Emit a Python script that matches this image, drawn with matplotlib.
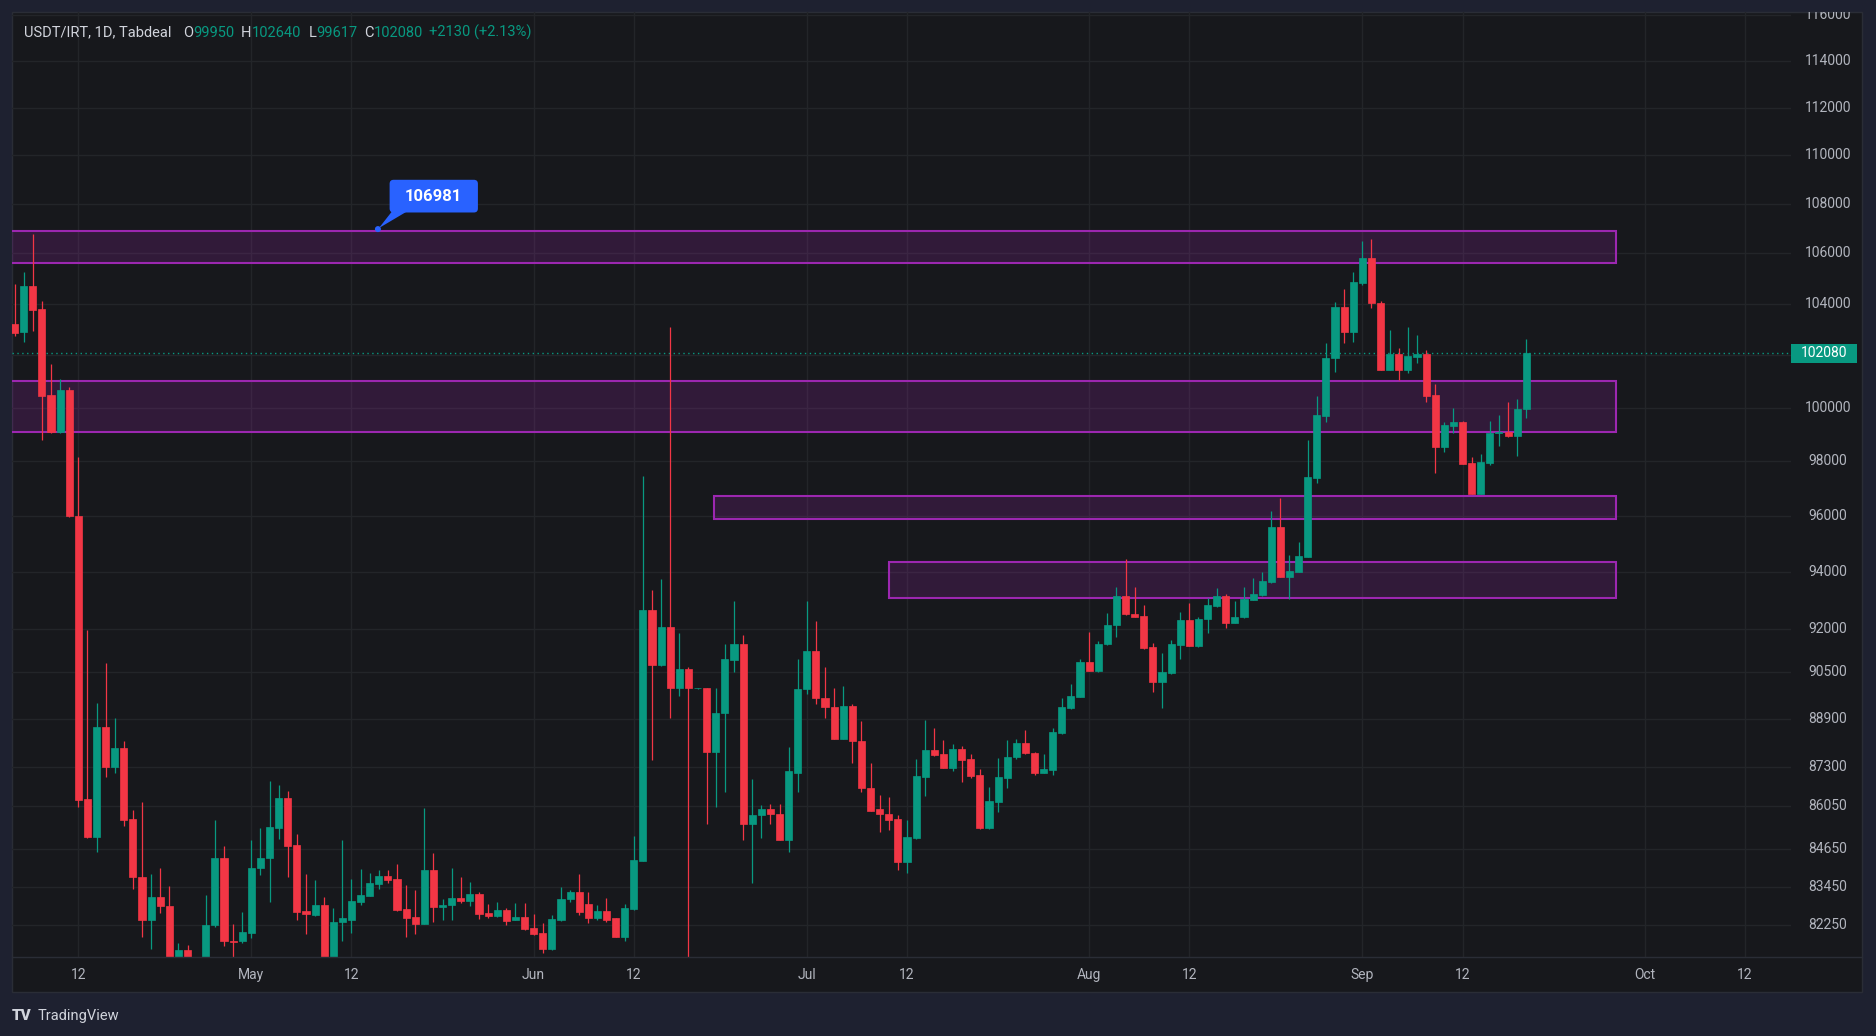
import numpy as np
import matplotlib
matplotlib.use("Agg")
import matplotlib.pyplot as plt
from matplotlib.patches import Rectangle, FancyBboxPatch, Polygon, Circle
from matplotlib.transforms import blended_transform_factory, IdentityTransform
from matplotlib.lines import Line2D

plt.rcParams['font.family'] = ['Roboto', 'DejaVu Sans']

# ---------------- data ----------------
day_index = np.arange(-7, 160)   # 0 = Apr 12

opens = [103200, 102890, 104700, 103790, 100480, 99090, 100660, 95980, 86250, 85050,
         88650, 87330, 87940, 85620, 83750, 82400, 83140, 82850, 80900, 81490,
         81100, 80800, 82260, 84380, 81770, 81750, 82010, 84040, 84380, 85340,
         86310, 84780, 82690, 82570, 82870, 81200, 82350, 82420, 82970, 83170,
         83540, 83790, 83700, 82750, 82510, 82300, 83980, 82810, 82870, 83110,
         83020, 83220, 82640, 82540, 82720, 82420, 82520, 82150, 82000, 81500,
         82420, 83060, 83300, 82900, 82480, 82690, 82460, 81890, 82740, 84270,
         92660, 90760, 92060, 89950, 90590, 89950, 89950, 87820, 89130, 90920,
         91460, 85460, 85730, 85930, 85770, 84940, 87130, 89940, 91210, 89630,
         89300, 88240, 89340, 88190, 86620, 85930, 85770, 85610, 84250, 85010,
         86990, 87880, 87750, 87290, 87910, 87580, 87050, 85310, 86180, 86960,
         87630, 88110, 87790, 87130, 87220, 88430, 89270, 89670, 90860, 90540,
         91450, 92110, 93140, 92510, 92450, 91360, 90170, 90470, 91420, 92310,
         91390, 92330, 92800, 93130, 92210, 92390, 93010, 93160, 93640, 95610,
         93820, 94000, 94530, 97400, 99700, 101890, 103890, 102920, 104840, 105830,
         104050, 101440, 102040, 101440, 101950, 102040, 100480, 98540, 99330, 99480,
         97930, 96800, 97930, 99040, 99100, 98940, 99950]

highs = [104770, 105280, 106790, 104120, 101650, 101110, 100780, 98140, 91940, 89440,
         90820, 88930, 88170, 85900, 86170, 83850, 84040, 83480, 81690, 81650,
         81200, 83180, 85590, 84750, 82280, 82660, 84950, 85320, 86850, 86720,
         86530, 85120, 83850, 83670, 83120, 82790, 84940, 83700, 84020, 83880,
         83980, 83980, 84180, 83510, 83350, 85970, 84510, 83060, 84060, 83750,
         83600, 83280, 82910, 82960, 82790, 82940, 82940, 82590, 82320, 82570,
         83440, 83350, 83850, 83300, 82880, 83100, 82470, 82920, 85080, 97460,
         93340, 93740, 103080, 91860, 90680, 89970, 89960, 89950, 91460, 92950,
         91760, 86930, 86070, 86110, 86110, 87980, 90950, 92950, 92260, 90680,
         89950, 90010, 89410, 88860, 87450, 86400, 86320, 85740, 85580, 87570,
         88880, 88600, 88200, 88060, 88010, 87750, 87250, 86650, 87610, 88200,
         88240, 88550, 87820, 87750, 88600, 89610, 90100, 90950, 91870, 91570,
         92530, 93450, 94460, 93460, 92840, 91510, 91160, 91620, 92570, 92900,
         92410, 93080, 93430, 93220, 92960, 93440, 93760, 93980, 96180, 96660,
         94590, 95070, 98790, 100450, 102470, 104090, 104590, 105250, 106500, 106580,
         104120, 102980, 102300, 103090, 102790, 102210, 100900, 99480, 99980, 99490,
         98150, 98260, 99500, 99730, 100230, 100320, 102640]

lows = [102740, 102500, 102960, 98790, 99060, 99060, 95950, 86020, 85020, 84560,
        86970, 87130, 85390, 83370, 81900, 81530, 82640, 80600, 80700, 80800,
        80500, 80700, 82200, 81620, 81000, 81690, 81850, 83810, 82960, 84970,
        83770, 82420, 81970, 82550, 81000, 81050, 81770, 82000, 82870, 83150,
        83380, 83560, 82700, 81890, 81970, 82290, 82350, 82420, 82420, 82940,
        82840, 82450, 82490, 82520, 82270, 82410, 82110, 81960, 81380, 81490,
        82370, 82990, 82570, 82330, 82420, 82360, 81880, 81760, 82730, 84260,
        87550, 90720, 88950, 89700, 80500, 89930, 85460, 86000, 86490, 90490,
        84940, 83560, 84990, 85460, 84930, 84570, 86490, 89760, 89410, 88950,
        88230, 88230, 87450, 86510, 85880, 85190, 85250, 83970, 83880, 84980,
        86370, 87690, 87270, 87190, 86810, 86960, 85300, 85300, 85850, 86640,
        87580, 87750, 87050, 87110, 87050, 88420, 89240, 89650, 90540, 90490,
        91440, 91700, 92480, 92390, 91300, 89830, 89290, 90430, 90960, 91380,
        91360, 91830, 92740, 92020, 92190, 92370, 92990, 93140, 93580, 93810,
        93050, 93990, 94520, 97190, 99450, 101370, 102490, 102530, 104750, 103830,
        101430, 101430, 101050, 101310, 101720, 100210, 97580, 98360, 99040, 97890,
        96790, 96790, 97860, 98580, 98920, 98210, 99617]

closes = [102870, 104700, 103770, 100460, 99090, 100660, 95980, 86240, 85050, 88650,
          87330, 87940, 85590, 83750, 82400, 83140, 82850, 80900, 81490, 81100,
          80800, 82260, 84380, 81750, 81740, 82050, 84050, 84380, 85360, 86310,
          84760, 82670, 82590, 82870, 81200, 82350, 82460, 83010, 83200, 83560,
          83790, 83670, 82720, 82490, 82290, 83980, 82810, 82890, 83110, 83020,
          83220, 82600, 82540, 82720, 82390, 82500, 82120, 81970, 81500, 82440,
          83060, 83300, 82660, 82480, 82690, 82420, 81890, 82790, 84310, 92660,
          90760, 92060, 89950, 90590, 89950, 89960, 87820, 89130, 90950, 91460,
          85460, 85730, 85930, 85770, 84940, 87170, 89940, 91210, 89630, 89300,
          88240, 89340, 88190, 86620, 85890, 85770, 85580, 84250, 85030, 87020,
          87880, 87710, 87290, 87910, 87550, 87020, 85310, 86200, 86970, 87640,
          88110, 87770, 87110, 87250, 88490, 89330, 89690, 90860, 90550, 91470,
          92130, 93140, 92510, 92420, 91330, 90170, 90490, 91450, 92310, 91390,
          92350, 92840, 93130, 92210, 92410, 93050, 93200, 93680, 95610, 93820,
          94030, 94550, 97430, 99730, 101910, 103890, 102920, 104880, 105830, 104030,
          101440, 102040, 101440, 101970, 102040, 100460, 98540, 99350, 99480, 97900,
          96800, 97990, 99040, 99100, 98940, 99950, 102080]

price_ticks = [82250, 83450, 84650, 86050, 87300, 88900, 90500, 92000, 94000, 96000,
               98000, 100000, 102000, 104000, 106000, 108000, 110000, 112000, 114000, 116000]
date_tick_pos = [0, 19, 30, 50, 61, 80, 91, 111, 122, 141, 152, 172, 183]
date_tick_labels = ['12', 'May', '12', 'Jun', '12', 'Jul', '12', 'Aug', '12', 'Sep', '12', 'Oct', '12']

zone_top = [106890, 101035, 96725, 94355]
zone_bottom = [105601, 99074, 95878, 93080]
zone_start = [-20, -20, 69.85, 89.0]
zone_end = [168.9, 168.9, 168.9, 168.9]

callout_x = 32.9
callout_value = 106981

# ---------------- style ----------------
GREEN = '#089981'
RED = '#F23645'
PURPLE = '#9C27B0'
OUTER = '#1e2130'
PANEL = '#17181c'
GRID = '#232529'
TXT = '#b2b5be'

W, H = 1876, 1036
fig = plt.figure(figsize=(W / 100, H / 100), dpi=100)
fig.patch.set_facecolor(OUTER)

def fx(px):
    return px / W

def fy(py):
    return 1 - py / H

panel = Rectangle((fx(12), fy(992)), fx(1862) - fx(12), fy(12) - fy(992),
                  transform=fig.transFigure, facecolor=PANEL, edgecolor='#2a2d36',
                  lw=1, zorder=-10)
fig.patches.append(panel)

ylo, yhi = 81269, 116121
xlo, xhi = -7.28, 188.07
ax = fig.add_axes([fx(12), fy(957), fx(1791) - fx(12), fy(12) - fy(957)])
ax.set_zorder(1)
ax.set_yscale('log')
ax.axis('off')

# grid
for v in price_ticks:
    ax.axhline(v, color=GRID, lw=1, zorder=0)
for p in date_tick_pos:
    ax.axvline(p, color=GRID, lw=1, zorder=0)

# zones
for t, b, s, e in zip(zone_top, zone_bottom, zone_start, zone_end):
    ax.add_patch(Rectangle((s, b), e - s, t - b, facecolor=(0.612, 0.153, 0.69, 0.2),
                           edgecolor=PURPLE, lw=1.5, zorder=1))

# candles
o = np.array(opens, float)
h = np.array(highs, float)
l = np.array(lows, float)
c = np.array(closes, float)
up = c >= o
cols = np.where(up, GREEN, RED)
ax.vlines(day_index, l, h, colors=cols, lw=0.9, zorder=3)
ax.bar(day_index, np.abs(c - o), bottom=np.minimum(o, c), width=0.78,
       color=cols, edgecolor=cols, linewidth=0.5, zorder=4)

# last price dotted line
last = closes[-1]
ax.axhline(last, color=GREEN, lw=1, ls=(0, (1, 2.5)), zorder=2)
ax.set_ylim(ylo, yhi)
ax.set_xlim(xlo, xhi)

# callout
tip = ax.transData.transform((callout_x, callout_value))
idt = IdentityTransform()
bl, bb = tip[0] + 11.7, tip[1] + 16.6
bw, bh = 88.3, 32.7
fig.patches.append(FancyBboxPatch((bl, bb), bw, bh, boxstyle='round,pad=0,rounding_size=4',
                                  transform=idt, facecolor='#2962FF', edgecolor='none', zorder=5))
fig.patches.append(Polygon([(tip[0] + 1, tip[1] + 1), (tip[0] + 14, bb + 1), (tip[0] + 29, bb + 1)],
                           closed=True, transform=idt, facecolor='#2962FF', edgecolor='none', zorder=5))
fig.patches.append(Circle((tip[0], tip[1]), 3, transform=idt, facecolor='#2962FF', zorder=5))
fig.text(bl + bw / 2, bb + bh / 2, str(callout_value), transform=idt, color='white',
         fontsize=12, fontweight='bold', ha='center', va='center', zorder=6)

# price axis
axp = fig.add_axes([fx(1791), fy(957), fx(1862) - fx(1791), fy(12) - fy(957)])
axp.set_zorder(1)
axp.set_yscale('log')
axp.set_ylim(ylo, yhi)
axp.set_xlim(0, 1)
axp.axis('off')
trp = blended_transform_factory(axp.transAxes, axp.transData)
for v in price_ticks:
    if abs(v - last) / last < 0.01:
        continue  # hidden under the last-price badge
    axp.text(0.52, v, str(v), transform=trp, ha='center', va='center',
             color=TXT, fontsize=10, clip_on=True)
ly = axp.transData.transform((0, last))[1]
fig.patches.append(Rectangle((1791, ly - 9.5), 66, 19, transform=idt,
                             facecolor=GREEN, edgecolor='none', zorder=5))
fig.text(1824, ly, str(last), transform=idt, color='white', fontsize=10,
         ha='center', va='center', zorder=6)

# time axis
axt = fig.add_axes([fx(12), fy(992), fx(1791) - fx(12), fy(957) - fy(992)])
axt.set_zorder(1)
axt.set_xlim(xlo, xhi)
axt.set_ylim(0, 1)
axt.axis('off')
for p, lab in zip(date_tick_pos, date_tick_labels):
    axt.text(p, 0.49, lab, ha='center', va='center', color=TXT, fontsize=10, clip_on=True)
fig.lines.append(Line2D([fx(12), fx(1862)], [fy(957), fy(957)], transform=fig.transFigure,
                        color='#2a2d36', lw=1))

# header
chg = closes[-1] - closes[-2]
pct = chg / closes[-2] * 100
hy = fy(32.7)
header = [("USDT/IRT, 1D, Tabdeal", 23.7, '#d1d4dc'),
          ("O", 183, '#d1d4dc'), (str(opens[-1]), 193.7, GREEN),
          ("H", 241.2, '#d1d4dc'), (str(highs[-1]), 251.9, GREEN),
          ("L", 308.4, '#d1d4dc'), (str(lows[-1]), 316.3, GREEN),
          ("C", 363.8, '#d1d4dc'), (str(closes[-1]), 373.7, GREEN),
          (f"{chg:+d} ({pct:+.2f}%)", 429, GREEN)]
for s, x, col in header:
    fig.text(fx(x), hy, s, color=col, fontsize=10.5, ha='left', va='center', zorder=6)

# footer logo
fig.text(fx(12), fy(1016), "TV", color='#d1d4dc', fontsize=11, fontweight='heavy',
         ha='left', va='center')
fig.text(fx(38), fy(1016), "TradingView", color='#d1d4dc', fontsize=10.5,
         ha='left', va='center')

fig.savefig('out.png', dpi=100, facecolor=OUTER)
